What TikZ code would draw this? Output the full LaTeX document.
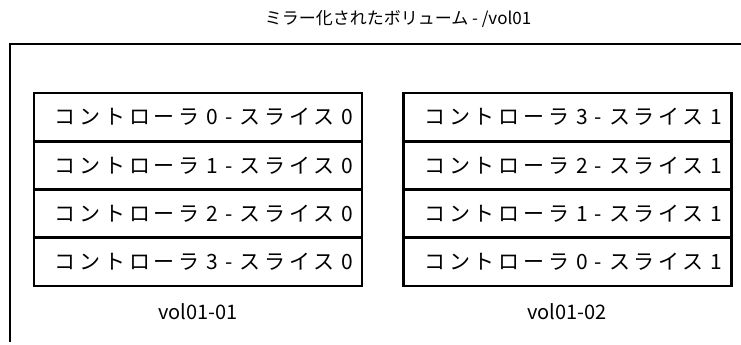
\documentclass[tikz,border=0pt]{standalone}
\usepackage{fontspec}
\setmainfont{Noto Sans CJK JP}
\newfontfamily\rowfont[LetterSpace=18]{Noto Sans CJK JP}
\begin{document}
\begin{tikzpicture}[x=1pt,y=-1pt,
  rowbox/.style={draw,line width=2.8pt,rectangle,minimum height=48.3pt,
    inner xsep=9pt,inner ysep=0pt,text width=310pt,align=right,
    font=\rowfont\fontsize{21}{24}\selectfont},
  lab/.style={font=\fontsize{20}{24}\selectfont}]
\useasboundingbox (0,0) rectangle (741,345);
\fill[white] (0,0) rectangle (741,345);
\coordinate (ob) at (10,342);
\coordinate (otl) at (10,44);
\coordinate (otr) at (741,44);
\draw[line width=2.8pt] (ob) -- (otl) -- (otr);
\node[font=\fontsize{17}{20}\selectfont] (title) at (398,19) {ミラー化されたボリューム - /vol01};
\node[rowbox] (l0) at (198,117.1) {コントローラ 0 - スライス 0};
\node[rowbox] (l1) at (198,165.4) {コントローラ 1 - スライス 0};
\node[rowbox] (l2) at (198,213.6) {コントローラ 2 - スライス 0};
\node[rowbox] (l3) at (198,261.9) {コントローラ 3 - スライス 0};
\node[rowbox] (r0) at (567.5,117.1) {コントローラ 3 - スライス 1};
\node[rowbox] (r1) at (567.5,165.4) {コントローラ 2 - スライス 1};
\node[rowbox] (r2) at (567.5,213.6) {コントローラ 1 - スライス 1};
\node[rowbox] (r3) at (567.5,261.9) {コントローラ 0 - スライス 1};
\node[lab] (v1) at (198,312) {vol01-01};
\node[lab] (v2) at (567,312) {vol01-02};
\end{tikzpicture}
\end{document}
